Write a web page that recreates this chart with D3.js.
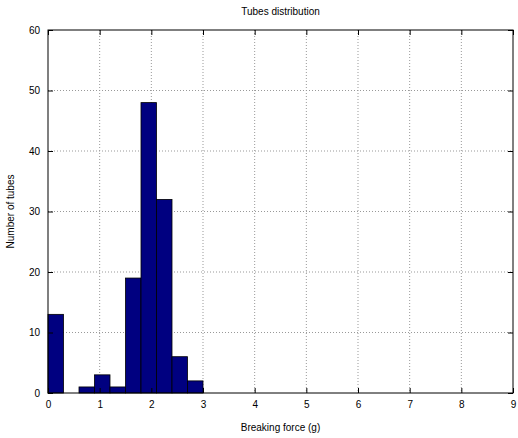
<!doctype html>
<html lang="en">
<head>
    <meta charset="UTF-8" />
    <script src="https://d3js.org/d3.v7.min.js"></script>
    <title>Tubes distribution</title>
    <style>
        body { margin: 0; background: #fff; }
        text { font-family: "Liberation Sans", Arial, sans-serif; }
    </style>
</head>
<body>
    <div id="chart"></div>
    <script>
        // Histogram data: bin edges and counts
        const binStarts = [0, 0.3, 0.6, 0.9, 1.2, 1.5, 1.8, 2.1, 2.4, 2.7]
        const binWidth = 0.3
        const counts = [13, 0, 1, 3, 1, 19, 48, 32, 6, 2]
        const xTicks = [0, 1, 2, 3, 4, 5, 6, 7, 8, 9]
        const yTicks = [0, 10, 20, 30, 40, 50, 60]

        const W = 518, H = 438
        const margin = { top: 30, right: 5, bottom: 45, left: 48 }
        const width = W - margin.left - margin.right
        const height = H - margin.top - margin.bottom

        const x = d3.scaleLinear().domain([0, 9]).range([0, width])
        const y = d3.scaleLinear().domain([0, 60]).range([height, 0])

        const svg = d3.select("#chart").append("svg")
            .attr("width", W).attr("height", H)
        const g = svg.append("g")
            .attr("transform", `translate(${margin.left},${margin.top})`)

        // Grid
        g.append("g").selectAll("line").data(xTicks.slice(1, -1)).join("line")
            .attr("x1", d => x(d)).attr("x2", d => x(d))
            .attr("y1", 0).attr("y2", height)
            .attr("stroke", "#999").attr("stroke-dasharray", "1,2")
        g.append("g").selectAll("line").data(yTicks.slice(1, -1)).join("line")
            .attr("y1", d => y(d)).attr("y2", d => y(d))
            .attr("x1", 0).attr("x2", width)
            .attr("stroke", "#999").attr("stroke-dasharray", "1,2")

        // Bars
        g.selectAll("rect.bar").data(counts).join("rect")
            .attr("class", "bar")
            .attr("x", (d, i) => x(binStarts[i]))
            .attr("width", x(binWidth) - x(0))
            .attr("y", d => y(d))
            .attr("height", d => height - y(d))
            .attr("fill", "#000080")
            .attr("stroke", "#000")
            .attr("stroke-width", 0.8)

        // Axes box
        g.append("rect")
            .attr("width", width).attr("height", height)
            .attr("fill", "none").attr("stroke", "#000")

        const xAxis = g.append("g")
            .attr("transform", `translate(0,${height})`)
            .call(d3.axisBottom(x).tickValues(xTicks).tickSize(-5).tickPadding(8))
        const xTop = g.append("g")
            .call(d3.axisTop(x).tickValues(xTicks).tickSize(-5).tickFormat(""))
        const yAxis = g.append("g")
            .call(d3.axisLeft(y).tickValues(yTicks).tickSize(-5).tickPadding(8))
        const yRight = g.append("g")
            .attr("transform", `translate(${width},0)`)
            .call(d3.axisRight(y).tickValues(yTicks).tickSize(-5).tickFormat(""))

        ;[xAxis, xTop, yAxis, yRight].forEach(a => {
            a.select(".domain").remove()
            a.selectAll("text").attr("font-size", 10).attr("font-family", "Liberation Sans, Arial, sans-serif").attr("fill", "#000")
        })

        // Labels
        svg.append("text")
            .attr("x", margin.left + width / 2).attr("y", 15)
            .attr("text-anchor", "middle").attr("font-size", 10)
            .text("Tubes distribution")

        svg.append("text")
            .attr("x", margin.left + width / 2).attr("y", 431)
            .attr("text-anchor", "middle").attr("font-size", 10)
            .text("Breaking force (g)")

        svg.append("text")
            .attr("transform", `translate(14,${margin.top + height / 2}) rotate(-90)`)
            .attr("text-anchor", "middle").attr("font-size", 10)
            .text("Number of tubes")
    </script>
</body>
</html>
